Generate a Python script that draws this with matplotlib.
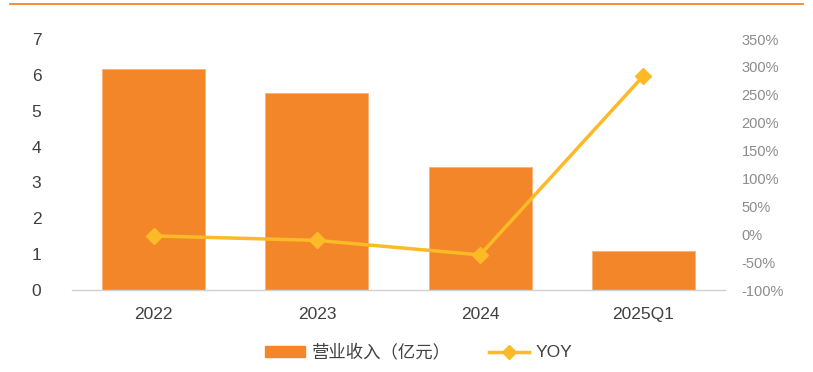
import matplotlib
matplotlib.use("Agg")
import matplotlib.pyplot as plt
from matplotlib.lines import Line2D
from matplotlib.patches import Patch

plt.rcParams['font.family'] = ['Liberation Sans', 'Noto Sans CJK SC', 'DejaVu Sans']

categories = ["2022", "2023", "2024", "2025Q1"]
revenue = [6.17, 5.49, 3.43, 1.09]
yoy = [-3, -11, -37, 284]
left_ticks = [0, 1, 2, 3, 4, 5, 6, 7]
right_ticks = [-100, -50, 0, 50, 100, 150, 200, 250, 300, 350]

bar_color = "#F4862A"
line_color = "#FBBA26"

fig = plt.figure(figsize=(8.13, 3.72), dpi=100)
ax = fig.add_axes([0.0886, 0.2204, 0.8032, 0.6746])
x = range(len(categories))
ax.bar(x, revenue, width=0.63, color=bar_color, edgecolor="#F8B27A", linewidth=0.6, zorder=2)
ax.set_xlim(-0.5, 3.5)
ax.set_ylim(0, 7)
ax.set_yticks(left_ticks)
ax.set_yticklabels([str(t) for t in left_ticks], fontsize=12.5, color="#404040")
ax.set_xticks(list(x))
ax.set_xticklabels(categories, fontsize=12.5, color="#404040")
ax.tick_params(axis='both', length=0)
ax.tick_params(axis='y', pad=22)
ax.tick_params(axis='x', pad=12)
for s in ["top", "right", "left"]:
    ax.spines[s].set_visible(False)
ax.spines["bottom"].set_color("#D0D0D0")
ax.spines["bottom"].set_linewidth(1.0)

ax2 = ax.twinx()
ax2.plot(list(x), yoy, color=line_color, linewidth=2.5, marker="D", markersize=8,
         markerfacecolor=line_color, markeredgecolor=line_color, zorder=3)
ax2.set_ylim(-100, 350)
ax2.set_yticks(right_ticks)
ax2.set_yticklabels([f"{t}%" for t in right_ticks], fontsize=10.5, color="#8C8C8C")
ax2.tick_params(axis='y', length=0, pad=12)
for s in ["top", "right", "left", "bottom"]:
    ax2.spines[s].set_visible(False)

# top decorative line
fig.add_artist(Line2D([10/813, 803/813], [1 - 4/372, 1 - 4/372], color=bar_color, linewidth=1.3))

handles = [Patch(facecolor=bar_color, edgecolor=bar_color),
           Line2D([0], [0], color=line_color, linewidth=2.5, marker="D", markersize=7)]
fig.legend(handles, ["营业收入（亿元）", "YOY"], loc="center", bbox_to_anchor=(0.515, 0.054),
           ncol=2, frameon=False, fontsize=12.5, labelcolor="#404040",
           handlelength=2.3, handleheight=0.6, columnspacing=2.2, handletextpad=0.4)

fig.savefig("out.png", dpi=100)
